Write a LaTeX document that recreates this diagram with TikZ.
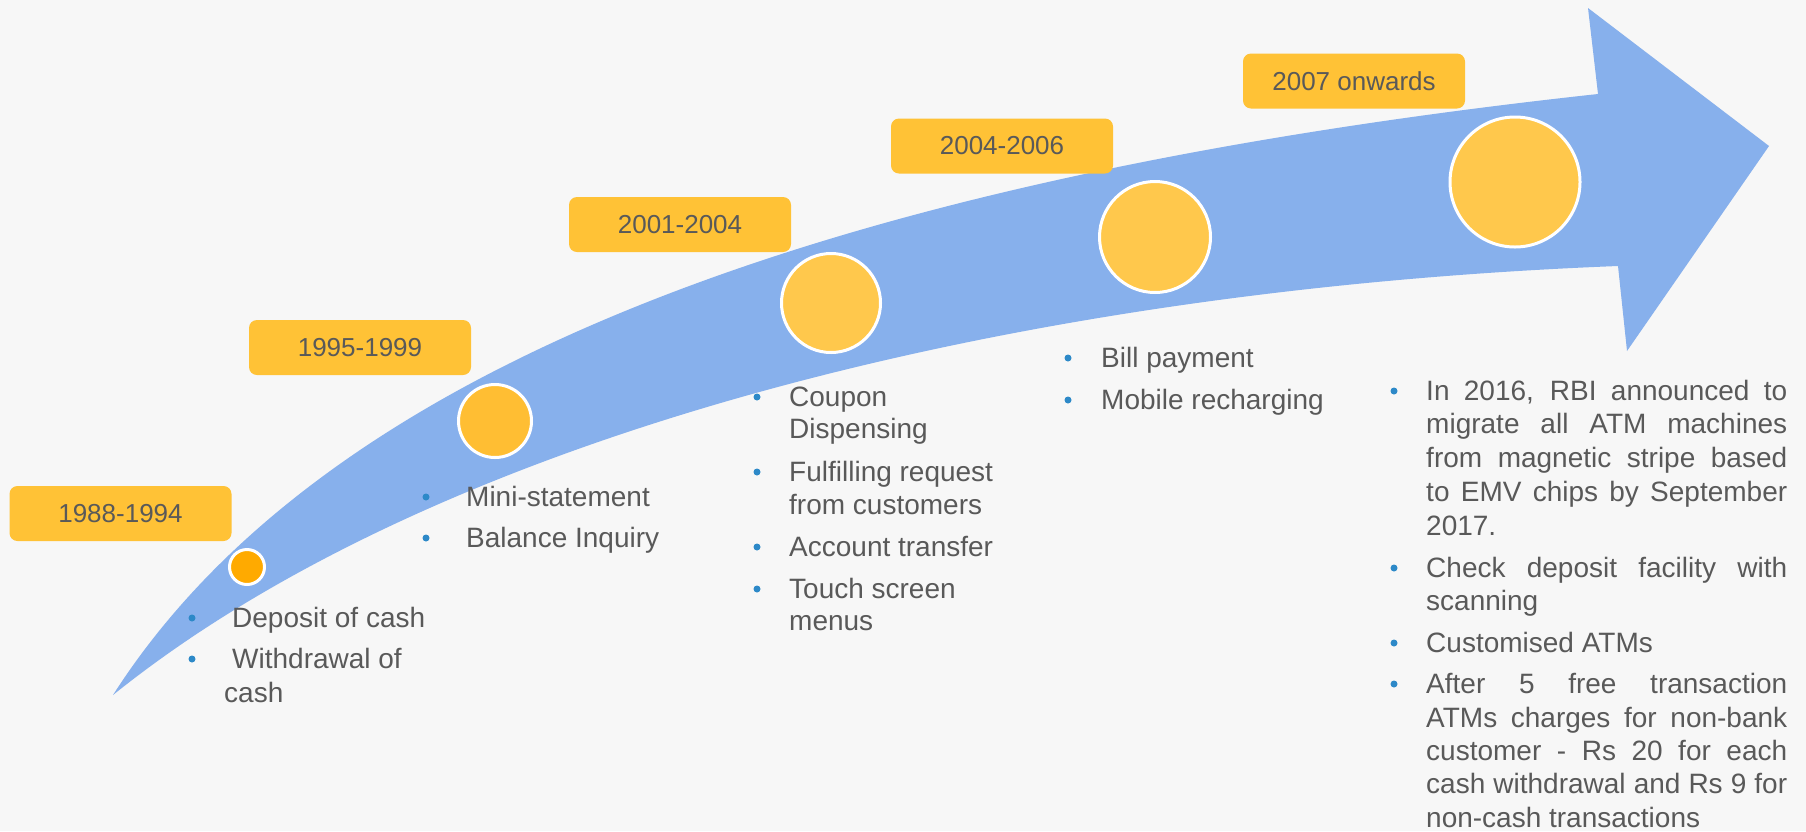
\documentclass[tikz,border=0pt]{standalone}
\usepackage{fontspec}
\setmainfont{Liberation Sans}
\definecolor{bgc}{HTML}{F7F7F7}
\definecolor{arrc}{HTML}{87B0EC}
\definecolor{boxc}{HTML}{FFC236}
\definecolor{circc}{HTML}{FFC84C}
\definecolor{circa}{HTML}{FFAA00}
\definecolor{circb}{HTML}{FFBE33}
\definecolor{txtc}{HTML}{595959}
\definecolor{bulc}{HTML}{2D89C8}
\begin{document}
\begin{tikzpicture}[x=1pt,y=-1pt,
  yearbox/.style={rectangle, rounded corners=8pt, fill=boxc, minimum width=222pt, minimum height=55pt, inner sep=0pt, text=txtc, font=\fontsize{26}{31}\selectfont},
  txtline/.style={anchor=base west, inner sep=0pt, text=txtc, font=\fontsize{28}{33.5}\selectfont},
  bul/.style={circle, fill=bulc, inner sep=0pt, minimum size=7pt},
  milestone/.style={circle, draw=white, line width=3pt, inner sep=0pt},
]
\fill[bgc] (0,0) rectangle (1806,831);
\useasboundingbox (0,0) rectangle (1806,831);
% arrow
\fill[arrc] (113,695) .. controls (340,340) and (900,170) .. (1598,94)
  -- (1588,8) -- (1769,146) -- (1627,351) -- (1618,266)
  .. controls (1000,290) and (430,440) .. (113,695) -- cycle;
% milestones
\node[milestone, fill=circa, minimum size=35pt] (c1) at (247,567) {};
\node[milestone, fill=circb, minimum size=73pt] (c2) at (495,421) {};
\node[milestone, fill=circc, minimum size=99pt] (c3) at (831,303) {};
\node[milestone, fill=circc, minimum size=111pt] (c4) at (1155,237) {};
\node[milestone, fill=circc, minimum size=130pt] (c5) at (1515,182) {};
% year boxes
\node[yearbox] (y1) at (120.5,513.5) {1988-1994};
\node[yearbox] (y2) at (360,347.5) {1995-1999};
\node[yearbox] (y3) at (680,224.5) {2001-2004};
\node[yearbox] (y4) at (1002,146) {2004-2006};
\node[yearbox] (y5) at (1354,81) {2007 onwards};
% block 1
\node[bul] (d1a) at (192,618) {};
\node[txtline] (l1a) at (232,627) {Deposit of cash};
\node[bul] (d1b) at (192,659) {};
\node[txtline] (l1b) at (232,668) {Withdrawal of};
\node[txtline] (l1c) at (224,702) {cash};
% block 2
\node[bul] (d2a) at (426,497) {};
\node[txtline] (l2a) at (466,506) {Mini-statement};
\node[bul] (d2b) at (426,538) {};
\node[txtline] (l2b) at (466,547) {Balance Inquiry};
% block 3
\node[bul] (d3a) at (757,397) {};
\node[txtline] (l3a) at (789,406) {Coupon};
\node[txtline] (l3b) at (789,438) {Dispensing};
\node[bul] (d3b) at (757,472) {};
\node[txtline] (l3c) at (789,481) {Fulfilling request};
\node[txtline] (l3d) at (789,514) {from customers};
\node[bul] (d3c) at (757,547) {};
\node[txtline] (l3e) at (789,556) {Account transfer};
\node[bul] (d3d) at (757,589) {};
\node[txtline] (l3f) at (789,598) {Touch screen};
\node[txtline] (l3g) at (789,630) {menus};
% block 4
\node[bul] (d4a) at (1068,358) {};
\node[txtline] (l4a) at (1101,367) {Bill payment};
\node[bul] (d4b) at (1068,400) {};
\node[txtline] (l4b) at (1101,409) {Mobile recharging};
% block 5
\node[bul] (d5a) at (1394,391) {};
\node[txtline] (l5a) at (1426,400) {\makebox[361pt][s]{In 2016, RBI announced to}};
\node[txtline] (l5b) at (1426,433) {\makebox[361pt][s]{migrate all ATM machines}};
\node[txtline] (l5c) at (1426,467) {\makebox[361pt][s]{from magnetic stripe based}};
\node[txtline] (l5d) at (1426,501) {\makebox[361pt][s]{to EMV chips by September}};
\node[txtline] (l5e) at (1426,535) {2017.};
\node[bul] (d5b) at (1394,568) {};
\node[txtline] (l5f) at (1426,577) {\makebox[361pt][s]{Check deposit facility with}};
\node[txtline] (l5g) at (1426,610) {scanning};
\node[bul] (d5c) at (1394,643) {};
\node[txtline] (l5h) at (1426,652) {Customised ATMs};
\node[bul] (d5d) at (1394,684) {};
\node[txtline] (l5i) at (1426,693) {\makebox[361pt][s]{After 5 free transaction}};
\node[txtline] (l5j) at (1426,727) {\makebox[361pt][s]{ATMs charges for non-bank}};
\node[txtline] (l5k) at (1426,760) {\makebox[361pt][s]{customer - Rs 20 for each}};
\node[txtline] (l5l) at (1426,793) {\makebox[361pt][s]{cash withdrawal and Rs 9 for}};
\node[txtline] (l5m) at (1426,827) {non-cash transactions};
\end{tikzpicture}
\end{document}
